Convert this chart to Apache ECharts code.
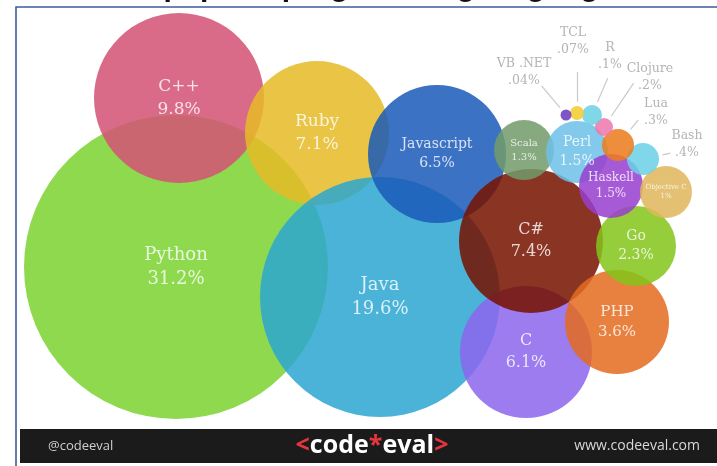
<!DOCTYPE html>
<html><head><meta charset="utf-8">
<script src="https://cdn.jsdelivr.net/npm/echarts@6/dist/echarts.min.js"></script>
<style>html,body{margin:0;padding:0;background:#fff;overflow:hidden}#c{width:717px;height:466px}</style>
</head><body><div id="c"></div>
<script>
// ---- data ----
const languages = ['Python','C++','Ruby','Java','Javascript','C','C#','PHP','Go','Scala','Perl','Haskell','Objective C','Bash','Lua','Clojure','R','TCL','VB .NET'];
const shares    = ['31.2%','9.8%','7.1%','19.6%','6.5%','6.1%','7.4%','3.6%','2.3%','1.3%','1.5%','1.5%','1%','.4%','.3%','.2%','.1%','.07%','.04%'];
const bubbleX   = [176,179,317,380,437,526,531,617,636,524,577,611,666,643,618,604,592,577,566];
const bubbleY   = [267,98,133,297,154,352,241,322,246,150,152,186,192,159,145,127,115,113,115];
const bubbleR   = [152,85,72,120,69,66,72,52,40,30,31,32,26,16,16,9,10,7,5.5];

// ---- styles ----
const colors = ['#8fd94f','#d96b88','#e9c444','#4ab3d7','#3b72c3','#9c7cef','#8a3414','#e8803e','#95cd3b','#86a97f','#83c9eb','#a65ad5','#e4c172','#80d7ea','#ee8e3c','#f08bb8','#80d7e6','#f3d34a','#7d55c5'];
const fontSizes = [18,17,17,18,14,16,16,15,14,10,14,12,7,12.5,12.5,12.5,12.5,12.5,12.5];
// callouts for the tiny bubbles: [labelDx, labelDy, lineAngleDeg, lineEndDist]
const callouts = {
  'Bash':    [44,-15,-12,28],
  'Lua':     [38,-33,-51,32],
  'Clojure': [46,-50,-56,53],
  'R':       [18,-59,-67,40],
  'TCL':     [-4,-72,-90,41],
  'VB .NET': [-42,-43,-130,38]
};
const ALPHA = 0.86;
function baseColor(hex){
  const v=[1,3,5].map(i=>parseInt(hex.substr(i,2),16));
  const b=v.map(c=>Math.max(0,Math.min(255,Math.round((c-255*(1-ALPHA))/ALPHA))));
  return 'rgb('+b.join(',')+')';
}

const points = languages.map((name,i)=>{
  const co = callouts[name];
  return {
    name: name,
    value: [bubbleX[i], bubbleY[i], bubbleR[i]],
    itemStyle: {color: baseColor(colors[i]), opacity: ALPHA},
    label: co ? {
      show: true, position: 'inside', offset: [co[0], co[1]],
      color: '#a8a8a8', fontSize: fontSizes[i], lineHeight: 17,
      fontFamily: 'DejaVu Serif'
    } : {
      show: true, position: 'inside',
      color: 'rgba(255,255,255,0.93)', fontSize: fontSizes[i],
      lineHeight: Math.round(fontSizes[i]*1.35), fontFamily: 'DejaVu Serif'
    }
  };
});

const leaderLines = [];
languages.forEach((name,i)=>{
  const co = callouts[name]; if(!co) return;
  const a = co[2]*Math.PI/180, s = bubbleR[i]+4, e = co[3];
  leaderLines.push({coords:[
    [bubbleX[i]+Math.cos(a)*s, bubbleY[i]+Math.sin(a)*s],
    [bubbleX[i]+Math.cos(a)*e, bubbleY[i]+Math.sin(a)*e]
  ]});
});

const chart = echarts.init(document.getElementById('c'), null, {renderer:'canvas'});
const W = 717, H = 466;
chart.setOption({
  animation: false,
  backgroundColor: '#ffffff',
  grid: {left:0, right:0, top:0, bottom:0},
  xAxis: {type:'value', min:0, max:W, show:false},
  yAxis: {type:'value', min:0, max:H, inverse:true, show:false},
  series: [
    {
      type: 'lines', coordinateSystem: 'cartesian2d', silent: true, z: 1,
      lineStyle: {color:'#c9c9c9', width:1.2, opacity:1},
      data: leaderLines
    },
    {
      type: 'scatter', z: 2, silent: true,
      symbol: 'circle',
      symbolSize: v => v[2]*2,
      label: {formatter: p => p.name + '\n' + shares[p.dataIndex]},
      emphasis: {disabled: true},
      data: points
    }
  ],
  graphic: [
    {type:'text', left:'center', top:-27, z:10,
      style:{text:'Most popular programming languages', font:'bold 30px "Liberation Sans"', fill:'#111'}},
    {type:'polyline', z:20, shape:{points:[[16,466],[16,7],[717,7]]}, style:{stroke:'#3d5c9c', lineWidth:1.6, fill:null}},
    {type:'rect', z:15, shape:{x:20,y:429,width:700,height:34}, style:{fill:'#1b1b1b'}},
    {type:'text', z:16, x:48, y:446, style:{text:'@codeeval', font:'13px "Open Sans"', fill:'#cfcfcf', verticalAlign:'middle'}},
    {type:'text', z:16, x:700, y:446, style:{text:'www.codeeval.com', font:'14px "Open Sans"', fill:'#d8d8d8', align:'right', verticalAlign:'middle'}},
    {type:'text', z:16, x:372, y:446, style:{
      text:'{r|<}{w|code}{r|*}{w|eval}{r|>}', align:'center', verticalAlign:'middle',
      rich:{
        r:{fill:'#e5353d', font:'bold 25px "Open Sans"'},
        w:{fill:'#ffffff', font:'bold 25px "Open Sans"'}
      }}}
  ]
});
</script>
</body></html>
